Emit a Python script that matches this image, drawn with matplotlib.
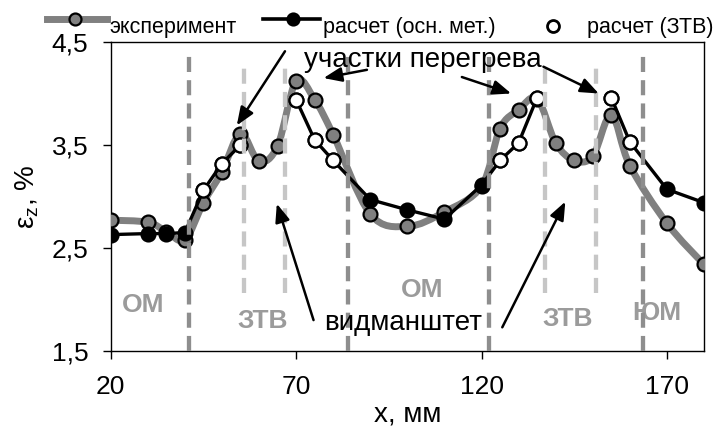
import numpy as np
import matplotlib
matplotlib.use("Agg")
import matplotlib.pyplot as plt
from matplotlib.path import Path
from matplotlib.patches import PathPatch
from matplotlib.lines import Line2D

plt.rcParams['font.family'] = ['Liberation Sans', 'DejaVu Sans']
plt.rcParams['mathtext.fontset'] = 'custom'
plt.rcParams['mathtext.rm'] = 'Liberation Sans'
plt.rcParams['mathtext.it'] = 'Liberation Sans'

# ---- data ----
exp_x = [20, 30, 35, 40, 45, 50, 55, 60, 65, 70, 75, 80, 90, 100, 110, 120,
         125, 130, 135, 140, 145, 150, 155, 160, 170, 180]
exp_y = [2.77, 2.75, 2.66, 2.58, 2.94, 3.24, 3.61, 3.34, 3.49, 4.12, 3.94, 3.60,
         2.83, 2.71, 2.85, 3.10, 3.66, 3.84, 3.95, 3.52, 3.35, 3.39, 3.79, 3.30,
         2.74, 2.34]

calc_x = [20, 30, 35, 40, 45, 50, 55, 62, 70, 75, 80, 90, 100, 110, 120,
          125, 130, 135, 145, 155, 160, 170, 180]
calc_y = [2.63, 2.64, 2.64, 2.65, 3.06, 3.32, 3.50, np.nan, 3.94, 3.55, 3.35,
          2.97, 2.87, 2.78, 3.11, 3.35, 3.52, 3.96, np.nan, 3.96, 3.53, 3.07, 2.94]

ztv_x = [45, 50, 55, 70, 75, 80, 125, 130, 135, 155, 160]
ztv_y = [3.06, 3.32, 3.50, 3.94, 3.55, 3.35, 3.35, 3.52, 3.96, 3.96, 3.53]

dark_lines_x = [41, 84, 122, 163.5]
light_lines_x = [56, 67, 137, 151]

x_ticks = [20, 70, 120, 170]
y_ticks = [1.5, 2.5, 3.5, 4.5]
y_tick_labels = ['1,5', '2,5', '3,5', '4,5']

region_labels = ['ОМ', 'ЗТВ', 'ОМ', 'ЗТВ', 'ЮМ']
region_pos = [(28.8, 1.95), (60.9, 1.79), (104.0, 2.09), (143.2, 1.81), (167.4, 1.87)]

GRAY = '#808080'
DARK_DASH = '#8e8e8e'
LIGHT_DASH = '#c6c6c6'
LABEL_GRAY = '#9b9b9b'

W, H = 715, 438
fig = plt.figure(figsize=(W / 100, H / 100), dpi=100)
ax = fig.add_axes([110.7 / W, 1 - 351 / H, (704 - 110.7) / W, (351 - 42) / H])


def smooth_path(xs, ys):
    pts = np.column_stack([xs, ys]).astype(float)
    n = len(pts)
    verts = [pts[0]]
    codes = [Path.MOVETO]
    for i in range(n - 1):
        p0 = pts[i - 1] if i > 0 else pts[i]
        p1 = pts[i]
        p2 = pts[i + 1]
        p3 = pts[i + 2] if i + 2 < n else pts[i + 1]
        c1 = p1 + (p2 - p0) / 6.0
        c2 = p2 - (p3 - p1) / 6.0
        verts += [c1, c2, p2]
        codes += [Path.CURVE4] * 3
    return Path(verts, codes)


# experiment smoothed line
ax.add_patch(PathPatch(smooth_path(exp_x, exp_y), facecolor='none', edgecolor=GRAY,
                       lw=5.0, capstyle='round', joinstyle='round', zorder=2))
ax.plot(exp_x, exp_y, 'o', ms=10, mfc=GRAY, mec='k', mew=1.6, zorder=3)

# calculation (base metal)
ax.plot(calc_x, calc_y, '-o', color='k', lw=2.4, ms=10, mfc='k', mec='k', mew=1.6, zorder=4)

# calculation (HAZ)
ax.plot(ztv_x, ztv_y, 'o', ms=10, mfc='white', mec='k', mew=1.6, zorder=5)

# vertical dashed boundaries
for xv in dark_lines_x:
    ax.plot([xv, xv], [1.5, 4.42], color=DARK_DASH, lw=3.1, ls=(0, (3.5, 1.9)),
            solid_capstyle='butt', zorder=6)
for xv in light_lines_x:
    ax.plot([xv, xv], [2.06, 4.25], color=LIGHT_DASH, lw=3.1, ls=(0, (3.5, 1.9)),
            solid_capstyle='butt', zorder=6)

# region labels
for lab, (xx, yy) in zip(region_labels, region_pos):
    ax.text(xx, yy, lab, fontsize=19, fontweight='bold', color=LABEL_GRAY,
            ha='center', va='center', zorder=5.5)

# annotations
ax.text(104.3, 4.33, 'участки перегрева', fontsize=20, ha='center', va='center', zorder=8)
ax.text(98.8, 1.77, 'видманштет', fontsize=20, ha='center', va='center', zorder=8)

arrows = [((67.0, 4.41), (54.0, 3.69)),
          ((89.1, 4.23), (77.4, 4.15)),
          ((114.7, 4.16), (128.0, 4.00)),
          ((136.7, 4.26), (151.6, 4.00)),
          ((74.7, 1.80), (64.8, 2.93)),
          ((125.6, 1.73), (142.6, 2.95))]
for start, head in arrows:
    ax.annotate('', xy=head, xytext=start,
                arrowprops=dict(arrowstyle='-|>,head_length=0.55,head_width=0.22',
                                color='k', lw=1.8, mutation_scale=20,
                                shrinkA=0, shrinkB=0), zorder=9)

ax.set_xlim(20, 180)
ax.set_ylim(1.5, 4.5)
ax.set_xticks(x_ticks)
ax.set_xticklabels([str(t) for t in x_ticks])
ax.set_yticks(y_ticks)
ax.set_yticklabels(y_tick_labels)
ax.tick_params(axis='both', direction='out', length=6, width=1, labelsize=19)
ax.tick_params(axis='y', pad=10)
ax.tick_params(axis='x', pad=11)
for s in ax.spines.values():
    s.set_linewidth(1)
    s.set_color('k')

ax.set_xlabel('x, мм', fontsize=20, labelpad=2)
ax.set_ylabel(r'$\mathregular{ε_z}$, %', fontsize=20, labelpad=8)


# legend drawn manually in figure pixel coordinates
def fx(px):
    return px / W


def fy(py):
    return 1 - py / H


fig.add_artist(Line2D([fx(47), fx(107)], [fy(19), fy(19)], color=GRAY, lw=5.0))
fig.add_artist(Line2D([fx(75)], [fy(19)], marker='o', ms=8.6, mfc=GRAY, mec='k', mew=1.6))
fig.text(fx(109), fy(33), 'эксперимент', fontsize=15.5, ha='left', va='baseline')

fig.add_artist(Line2D([fx(263), fx(320)], [fy(19), fy(19)], color='k', lw=2.6))
fig.add_artist(Line2D([fx(293)], [fy(19)], marker='o', ms=8.6, mfc='k', mec='k', mew=1.6))
fig.text(fx(323), fy(33), 'расчет (осн. мет.)', fontsize=15.5, ha='left', va='baseline')

fig.add_artist(Line2D([fx(553)], [fy(26)], marker='o', ms=8.6, mfc='white', mec='k', mew=2))
fig.text(fx(587), fy(33), 'расчет (ЗТВ)', fontsize=15.5, ha='left', va='baseline')

fig.savefig('out.png', dpi=100)
